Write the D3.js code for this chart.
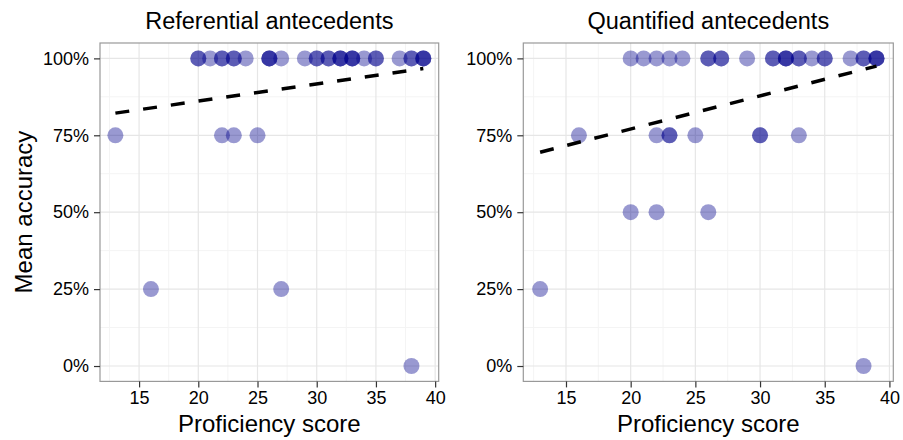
<!DOCTYPE html>
<html>
<head>
<meta charset="utf-8">
<script src="https://cdn.jsdelivr.net/npm/d3@7"></script>
<style>
  body { margin: 0; background: #fff; }
  text { font-family: "Liberation Sans", Arial, sans-serif; fill: #000; }
</style>
</head>
<body>
<div id="container"></div>
<script>
/* DATA */
const panelTitles = ["Referential antecedents", "Quantified antecedents"];
const accuracyLevels = [1, 0.75, 0.5, 0.25, 0];
// proficiency scores of the participants at each accuracy level (same order as accuracyLevels)
const refScores = [
  [20, 20, 21, 22, 22, 23, 23, 24, 26, 26, 26, 27, 29, 30, 30, 31, 31, 32, 32, 32, 33, 33, 33, 34, 35, 35, 37, 38, 38, 39, 39, 39],
  [13, 22, 23, 25],
  [],
  [16, 27],
  [38]
];
const quantScores = [
  [20, 21, 22, 23, 24, 26, 26, 27, 27, 29, 31, 31, 32, 32, 32, 33, 33, 34, 35, 35, 37, 38, 38, 39, 39, 39],
  [16, 22, 23, 23, 25, 30, 30, 33],
  [20, 22, 26],
  [13],
  [38]
];
const xTicks = [15, 20, 25, 30, 35, 40];
const yTicks = [0, 0.25, 0.5, 0.75, 1];

/* CONSTANTS */
const width = 903;
const height = 440;
const plotTop = 43, plotBottom = 381.4;
const panelX = [[100, 438.7], [523.3, 893.3]];

const svg = d3.select("#container")
  .append("svg")
  .attr("width", width)
  .attr("height", height)
  .style("background", "#fff");

const yScale = d3.scaleLinear()
  .domain([-0.05, 1.05])
  .range([plotBottom, plotTop]);

// flatten the level arrays into points
function toPoints(scores) {
  const pts = [];
  scores.forEach((list, i) => list.forEach(s => pts.push({ score: s, acc: accuracyLevels[i] })));
  return pts;
}

// simple least squares fit, like geom_smooth(method = "lm")
function fit(pts) {
  const mx = d3.mean(pts, d => d.score);
  const my = d3.mean(pts, d => d.acc);
  const sxy = d3.sum(pts, d => (d.score - mx) * (d.acc - my));
  const sxx = d3.sum(pts, d => (d.score - mx) ** 2);
  const b = sxy / sxx;
  const [x0, x1] = d3.extent(pts, d => d.score);
  return [{ score: x0, acc: my + b * (x0 - mx) }, { score: x1, acc: my + b * (x1 - mx) }];
}

[refScores, quantScores].forEach((scores, p) => {
  const pts = toPoints(scores);
  const xScale = d3.scaleLinear()
    .domain([11.7, 40.3])
    .range(panelX[p]);
  const g = svg.append("g");

  // minor grid
  const xMinor = d3.range(12.5, 40.3, 5);
  const yMinor = [0.125, 0.375, 0.625, 0.875];
  g.selectAll("line.xminor").data(xMinor).join("line")
    .attr("x1", d => xScale(d)).attr("x2", d => xScale(d))
    .attr("y1", plotTop).attr("y2", plotBottom)
    .attr("stroke", "#f4f4f4").attr("stroke-width", 1);
  g.selectAll("line.yminor").data(yMinor).join("line")
    .attr("y1", d => yScale(d)).attr("y2", d => yScale(d))
    .attr("x1", panelX[p][0]).attr("x2", panelX[p][1])
    .attr("stroke", "#f4f4f4").attr("stroke-width", 1);
  // major grid
  g.selectAll("line.xmajor").data(xTicks).join("line")
    .attr("x1", d => xScale(d)).attr("x2", d => xScale(d))
    .attr("y1", plotTop).attr("y2", plotBottom)
    .attr("stroke", "#e6e6e6").attr("stroke-width", 1.2);
  g.selectAll("line.ymajor").data(yTicks).join("line")
    .attr("y1", d => yScale(d)).attr("y2", d => yScale(d))
    .attr("x1", panelX[p][0]).attr("x2", panelX[p][1])
    .attr("stroke", "#e6e6e6").attr("stroke-width", 1.2);

  // points
  g.selectAll("circle").data(pts).join("circle")
    .attr("cx", d => xScale(d.score))
    .attr("cy", d => yScale(d.acc))
    .attr("r", 8)
    .attr("fill", "#00008B")
    .attr("fill-opacity", 0.4);

  // regression line
  g.append("path")
    .datum(fit(pts))
    .attr("d", d3.line().x(d => xScale(d.score)).y(d => yScale(d.acc)))
    .attr("fill", "none")
    .attr("stroke", "#000")
    .attr("stroke-width", 3.5)
    .attr("stroke-dasharray", "14,14");

  // panel border
  g.append("rect")
    .attr("x", panelX[p][0]).attr("y", plotTop)
    .attr("width", panelX[p][1] - panelX[p][0])
    .attr("height", plotBottom - plotTop)
    .attr("fill", "none")
    .attr("stroke", "#999")
    .attr("stroke-width", 1.2);

  /* Axes */
  const xAxis = d3.axisBottom(xScale).tickValues(xTicks).tickSize(6).tickPadding(4);
  const yAxis = d3.axisLeft(yScale).tickValues(yTicks).tickSize(6).tickPadding(5)
    .tickFormat(d3.format(".0%"));

  const gx = svg.append("g")
    .attr("transform", `translate(0,${plotBottom})`)
    .call(xAxis);
  const gy = svg.append("g")
    .attr("transform", `translate(${panelX[p][0]},0)`)
    .call(yAxis);
  [gx, gy].forEach(a => {
    a.select(".domain").remove();
    a.selectAll(".tick line").attr("stroke", "#333").attr("stroke-width", 1.2);
    a.selectAll(".tick text").style("font-size", "18px").attr("fill", "#000");
  });

  // titles
  const cx = (panelX[p][0] + panelX[p][1]) / 2;
  svg.append("text")
    .attr("x", cx).attr("y", 29)
    .attr("text-anchor", "middle")
    .style("font-size", "23.5px")
    .text(panelTitles[p]);
  svg.append("text")
    .attr("x", cx).attr("y", 432)
    .attr("text-anchor", "middle")
    .style("font-size", "24px")
    .text("Proficiency score");
});

svg.append("text")
  .attr("transform", `translate(32,212) rotate(-90)`)
  .attr("text-anchor", "middle")
  .style("font-size", "24px")
  .text("Mean accuracy");
</script>
</body>
</html>
